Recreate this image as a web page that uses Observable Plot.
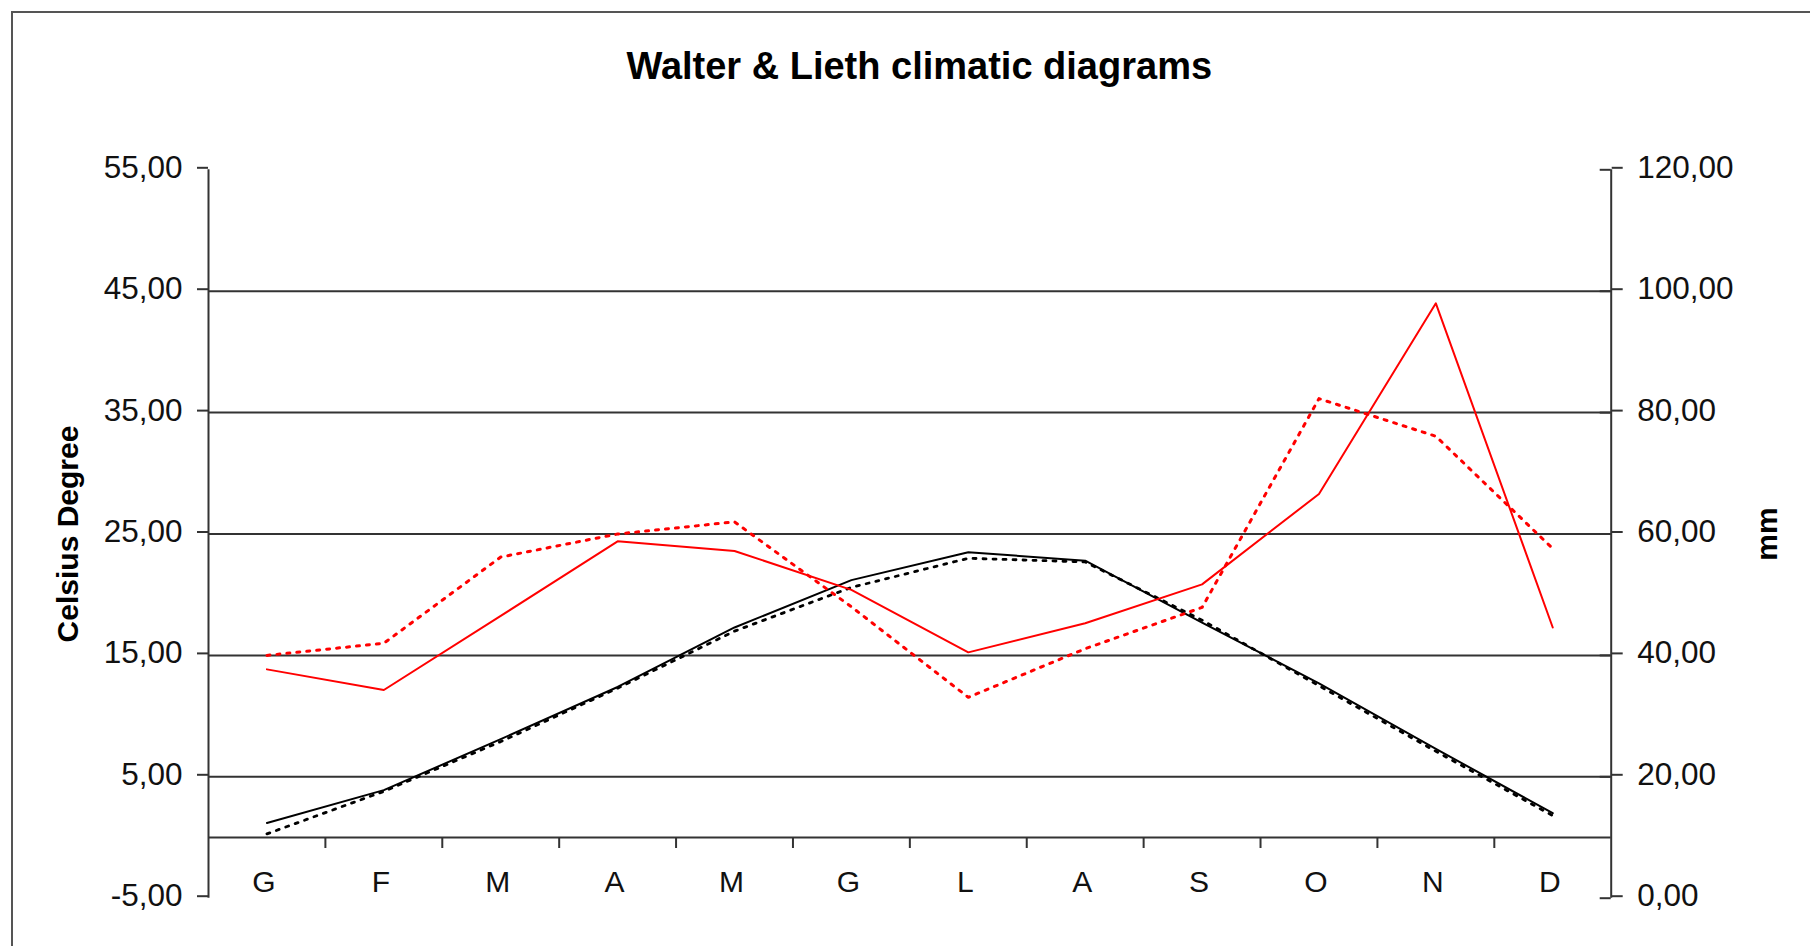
<!DOCTYPE html>
<html><head><meta charset="utf-8">
<script src="https://cdn.jsdelivr.net/npm/d3@7"></script>
<script src="https://cdn.jsdelivr.net/npm/@observablehq/plot@0.6"></script>
<style>
html,body{margin:0;padding:0;background:#fff;overflow:hidden;width:1810px;height:946px}
#wrap{position:relative;width:1810px;height:946px;overflow:hidden}
#wrap svg{position:absolute;left:0;top:0}
#frame{position:absolute;left:11px;top:11px;width:2000px;height:2000px;border-left:2px solid #555;border-top:2px solid #555}
</style></head><body><div id="wrap"><div id="frame"></div></div>
<script>
// ---- data ----
const months = ["G","F","M","A","M","G","L","A","S","O","N","D"];
const tempSolid  = [1.2, 3.9, 8.1, 12.4, 17.3, 21.2, 23.5, 22.8, 17.7, 12.7, 7.3, 2.0];
const tempDotted = [0.3, 3.8, 7.9, 12.3, 17.0, 20.6, 23.0, 22.7, 17.9, 12.5, 7.1, 1.8];
const precSolid  = [37.7, 34.3, 46.5, 58.8, 57.2, 50.8, 40.5, 45.3, 51.7, 66.6, 98.0, 44.6];
const precDotted = [40.0, 42.0, 56.2, 60.0, 62.0, 48.0, 33.1, 41.1, 47.9, 82.3, 76.1, 57.6];
const tempTicks = [-5, 5, 15, 25, 35, 45, 55];
const precTicks = [0, 20, 40, 60, 80, 100, 120];
const gridTemps = [5, 15, 25, 35, 45];
const titleText = "Walter & Lieth climatic diagrams";
const leftLabel = "Celsius Degree";
const rightLabel = "mm";

// ---- layout ----
const W = 1810, H = 946;
const M = {left: 208, right: W - 1610.7, top: 169.3, bottom: H - 897.7};
const FONT = "'Liberation Sans', Arial, Helvetica, sans-serif";
const INK = "#333";
const loc = d3.formatLocale({decimal: ",", thousands: ".", grouping: [3], currency: ["", ""], minus: "-"});
const fmt = loc.format(".2f");
const xi = (d, i) => i + 0.5;
const tempDomain = [-5, 55];

const common = {
  width: W, height: H,
  marginLeft: M.left, marginRight: M.right, marginTop: M.top, marginBottom: M.bottom,
  x: {domain: [0, 12], axis: null},
  style: {fontFamily: FONT, color: "#000", background: "transparent", overflow: "visible", maxWidth: "none"}
};

const p1 = Plot.plot({
  ...common,
  y: {domain: tempDomain, axis: null},
  marks: [
    Plot.ruleY(gridTemps, {stroke: INK, strokeWidth: 2}),
    Plot.ruleY([0], {stroke: INK, strokeWidth: 2}),
    Plot.ruleX([0, 12], {stroke: INK, strokeWidth: 2}),
    Plot.ruleX(d3.range(1, 12), {y1: 0, y2: 0, insetBottom: -11, stroke: INK, strokeWidth: 2}),
    Plot.axisY(tempTicks, {anchor: "left", tickSize: 11, tickPadding: 15, tickFormat: fmt,
      fontSize: 31.5, dy: -2, label: null, stroke: INK, strokeWidth: 2, fill: "#111"}),
    Plot.text(months, {x: xi, frameAnchor: "bottom", dx: -3, dy: -16, lineAnchor: "middle",
      text: d => d, fontSize: 30, fill: "#111"}),
    Plot.line(tempDotted, {x: xi, y: d => d, stroke: "#000", strokeWidth: 2.8, strokeDasharray: "3,7"}),
    Plot.line(tempSolid, {x: xi, y: d => d, stroke: "#000", strokeWidth: 2}),
    Plot.text([titleText], {frameAnchor: "top", dx: 9.4, dy: -103, lineAnchor: "middle",
      text: d => d, fontSize: 38, fontWeight: "bold", fill: "#000"}),
    Plot.text([leftLabel], {frameAnchor: "left", dx: -140.5, rotate: -90, lineAnchor: "middle",
      textAnchor: "middle", text: d => d, fontSize: 30, fontWeight: "bold", fill: "#000"})
  ]
});

const p2 = Plot.plot({
  ...common,
  y: {domain: [0, 120], axis: null},
  marks: [
    Plot.ruleY(precTicks, {x1: 12, x2: 12, insetLeft: -11, stroke: INK, strokeWidth: 2}),
    Plot.axisY(precTicks, {anchor: "right", tickSize: 11, tickPadding: 15, tickFormat: fmt,
      fontSize: 31.5, dy: -2, label: null, stroke: INK, strokeWidth: 2, fill: "#111"}),
    Plot.line(precDotted, {x: xi, y: d => d, stroke: "#ff0000", strokeWidth: 3, strokeDasharray: "3,7"}),
    Plot.line(precSolid, {x: xi, y: d => d, stroke: "#ff0000", strokeWidth: 2}),
    Plot.text([rightLabel], {frameAnchor: "right", dx: 156.5, rotate: -90, lineAnchor: "middle",
      textAnchor: "middle", text: d => d, fontSize: 30, fontWeight: "bold", fill: "#000"})
  ]
});

const wrap = document.getElementById("wrap");
wrap.appendChild(p1);
wrap.appendChild(p2);
</script>
</body></html>
